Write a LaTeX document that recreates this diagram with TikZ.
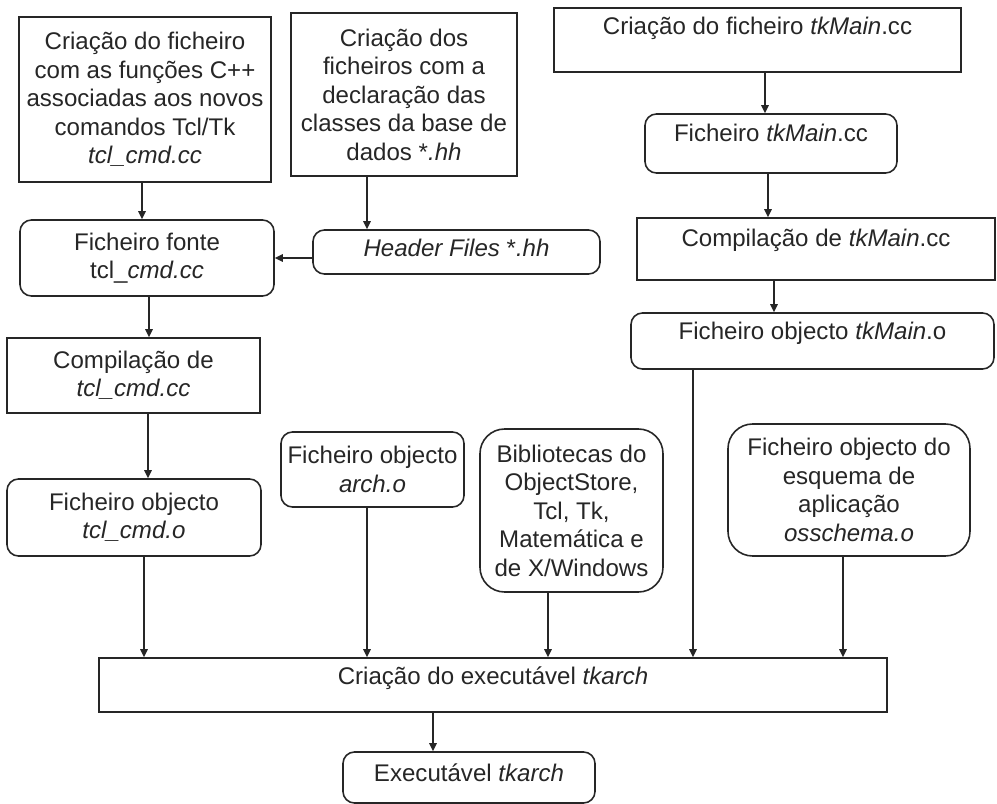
\documentclass[tikz,border=0pt]{standalone}
\usepackage{fontspec}
\setmainfont{Liberation Sans}
\usetikzlibrary{arrows.meta, calc}

\begin{document}
\begin{tikzpicture}[>={Triangle[length=1.6mm, width=1.5mm]}, line width=0.9pt, draw=black!85,
  every node/.style={font=\fontsize{13.7}{16.2}\selectfont, text=black!85},
  proc/.style={draw=black!85, align=center, inner sep=1pt},
  file/.style={proc, rounded corners=6.5pt},
  bigfile/.style={proc, rounded corners=14pt}]
  \useasboundingbox (0,0) rectangle (19.94,-16.08);
  % top row
  \node[proc, minimum width=5.04cm, minimum height=3.30cm] (newCmd) at (2.90,-1.99) {Criação do ficheiro\\com as funções C++\\associadas aos novos\\comandos Tcl/Tk\\\textit{tcl\_cmd.cc}};
  \node[proc, minimum width=4.52cm, minimum height=3.26cm] (newHdr) at (8.08,-1.89) {Criação dos\\ficheiros com a\\declaração das\\classes da base de\\dados *\textit{.hh}};
  \node[proc, minimum width=8.14cm, minimum height=1.28cm, text depth=0.56cm] (newMain) at (15.15,-0.80) {Criação do ficheiro \textit{tkMain}.cc};
  % left column
  \node[file, minimum width=5.08cm, minimum height=1.52cm] (cmdSrc) at (2.94,-5.16) {Ficheiro fonte\\tcl\_\textit{cmd.cc}};
  \node[file, minimum width=5.74cm, minimum height=0.88cm, text depth=0.16cm] (hdrFiles) at (9.13,-5.04) {\textit{Header Files} *\textit{.hh}};
  \node[proc, minimum width=5.06cm, minimum height=1.50cm] (cmdComp) at (2.67,-7.51) {Compilação de\\\textit{tcl\_cmd.cc}};
  \node[file, minimum width=5.08cm, minimum height=1.54cm] (cmdObj) at (2.68,-10.35) {Ficheiro objecto\\\textit{tcl\_cmd.o}};
  % right column
  \node[file, minimum width=5.04cm, minimum height=1.18cm, text depth=0.42cm] (mainSrc) at (15.42,-2.87) {Ficheiro \textit{tkMain}.cc};
  \node[proc, minimum width=7.16cm, minimum height=1.24cm, text depth=0.46cm] (mainComp) at (16.32,-4.98) {Compilação de \textit{tkMain}.cc};
  \node[file, minimum width=7.26cm, minimum height=1.12cm, text depth=0.42cm] (mainObj) at (16.25,-6.82) {Ficheiro objecto \textit{tkMain}.o};
  % other inputs
  \node[file, minimum width=3.66cm, minimum height=1.50cm] (archObj) at (7.45,-9.39) {Ficheiro objecto\\\textit{arch.o}};
  \node[bigfile, minimum width=3.66cm, minimum height=3.26cm] (libs) at (11.43,-10.21) {Bibliotecas do\\ObjectStore,\\Tcl, Tk,\\Matemática e\\de X/Windows};
  \node[bigfile, minimum width=4.84cm, minimum height=2.64cm] (schemaObj) at (16.98,-9.80) {Ficheiro objecto do\\esquema de\\aplicação\\\textit{osschema.o}};
  % link step
  \node[proc, minimum width=15.76cm, minimum height=1.08cm, text depth=0.39cm] (link) at (9.86,-13.70) {Criação do executável \textit{tkarch}};
  \node[file, minimum width=5.04cm, minimum height=1.02cm, text depth=0.20cm] (exec) at (9.38,-15.55) {Executável \textit{tkarch}};

  \draw[->] ($(newCmd.south)+(-0.06,0)$) -- ($(newCmd.south |- cmdSrc.north)+(-0.06,0)$);
  \draw[->] ($(newHdr.south)+(-0.74,0)$) -- ($(newHdr.south |- hdrFiles.north)+(-0.74,0)$);
  \draw[->] (cmdSrc.east -| hdrFiles.west) -- (cmdSrc.east);
  \draw[->] ($(cmdSrc.south)+(0.04,0)$) -- ($(cmdSrc.south |- cmdComp.north)+(0.04,0)$);
  \draw[->] ($(cmdComp.south)+(0.29,0)$) -- ($(cmdComp.south |- cmdObj.north)+(0.29,0)$);
  \draw[->] ($(newMain.south)+(0.15,0)$) -- ($(newMain.south |- mainSrc.north)+(0.15,0)$);
  \draw[->] ($(mainSrc.south)+(-0.06,0)$) -- ($(mainSrc.south |- mainComp.north)+(-0.06,0)$);
  \draw[->] ($(mainComp.south)+(-0.84,0)$) -- ($(mainComp.south |- mainObj.north)+(-0.84,0)$);
  \draw[->] ($(cmdObj.south)+(0.20,0)$) -- ($(cmdObj.south |- link.north)+(0.20,0)$);
  \draw[->] ($(archObj.south)+(-0.11,0)$) -- ($(archObj.south |- link.north)+(-0.11,0)$);
  \draw[->] ($(libs.south)+(-0.47,0)$) -- ($(libs.south |- link.north)+(-0.47,0)$);
  \draw[->] ($(mainObj.south)+(-2.39,0)$) -- ($(mainObj.south |- link.north)+(-2.39,0)$);
  \draw[->] ($(schemaObj.south)+(-0.12,0)$) -- ($(schemaObj.south |- link.north)+(-0.12,0)$);
  \draw[->] ($(link.south -| exec.north)+(-0.72,0)$) -- ($(exec.north)+(-0.72,0)$);
\end{tikzpicture}
\end{document}
